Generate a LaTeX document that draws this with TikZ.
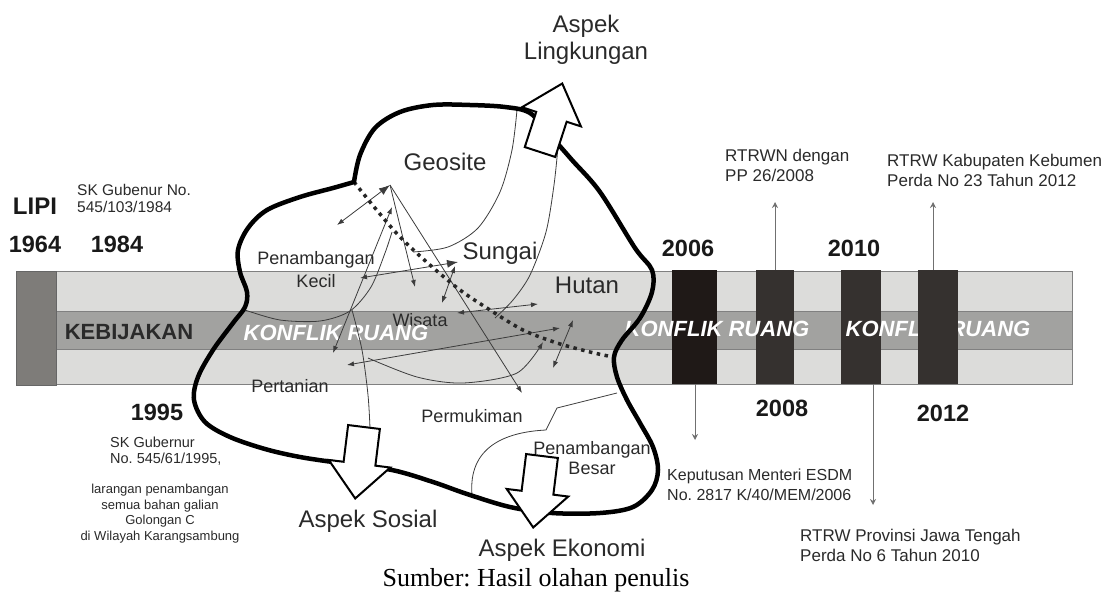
\documentclass[tikz,border=0pt]{standalone}
\usepackage{fontspec}
\setmainfont{Liberation Sans}
\newfontfamily\srcfont{Liberation Serif}
\usetikzlibrary{arrows.meta}
\frenchspacing
\definecolor{bandlight}{HTML}{DCDCDA}
\definecolor{bandmid}{HTML}{A2A2A0}
\definecolor{capgray}{HTML}{7E7C79}
\definecolor{bardark}{HTML}{1F1917}
\definecolor{barmid}{HTML}{35312F}
\definecolor{txt}{HTML}{2A2A2A}
\definecolor{lineg}{HTML}{3C3C3C}
\definecolor{tlgray}{HTML}{707070}
\definecolor{edgegray}{HTML}{808080}
\tikzset{
  fs/.style n args={2}{font=\fontsize{#1}{#2}\selectfont},
  lbl/.style={fs={18}{23}, text=txt, inner sep=0pt, align=center},
  biglbl/.style={fs={24}{27}, text=txt, inner sep=0pt, align=center},
  yearlbl/.style={font=\bfseries\fontsize{23.5}{26}\selectfont, text=black!90, inner sep=0pt},
  note/.style={fs={17}{20}, text=txt, inner sep=0pt, align=left, anchor=west},
  kr/.style={font=\bfseries\itshape\fontsize{22}{24}\selectfont, text=white, inner sep=0pt},
  bandbox/.style={draw=edgegray, line width=0.8pt, inner sep=0pt, outer sep=0pt},
  yearbar/.style={inner sep=0pt, outer sep=0pt, minimum height=114pt},
  thinln/.style={draw=lineg, line width=0.8pt},
  smtip/.tip={Latex[length=7pt,width=5pt]},
  bgtip/.tip={Latex[length=11pt,width=8pt]},
  arr/.style={thinln, -smtip},
  darr/.style={thinln, smtip-smtip},
  tl/.style={draw=tlgray, line width=0.9pt, -{Stealth[length=6pt,width=6pt]}},
  dotline/.style={draw=black!85, line width=3.5pt, dash pattern=on 3.5pt off 4.5pt},
  blobline/.style={draw=black, line width=4.5pt, line join=round, line cap=round},
  blockarrow/.pic={
    \draw[fill=white, draw=black, line width=2pt, line join=miter]
      (-16,0) -- (16,0) -- (16,37) -- (31,37) -- (0,72) -- (-31,37) -- (-16,37) -- cycle;
  }
}
\begin{document}
\begin{tikzpicture}[x=1pt,y=-1pt]
\useasboundingbox (0,0) rectangle (1110,592);

% ---- timeline band ----
\node[bandbox, fill=bandlight, minimum width=1016pt, minimum height=113pt] (band) at (564,327.5) {};
\node[bandbox, fill=bandmid, minimum width=1016pt, minimum height=38pt] (midband) at (564,330) {};
\node[bandbox, draw=black!60, fill=capgray, minimum width=40pt, minimum height=114pt] (cap) at (36,328) {};

% ---- year bars ----
\node[yearbar, fill=bardark, minimum width=45pt] (b2006) at (694.5,327) {};
\node[yearbar, fill=barmid, minimum width=38pt] (b2008) at (775,327) {};
\node[yearbar, fill=barmid, minimum width=40pt] (b2010) at (861,327) {};

\node[lbl] (wisata) at (420,320) {Wisata};

\node[font=\bfseries\fontsize{22}{24}\selectfont, text=txt, inner sep=0pt] (kebijakan) at (129,332) {KEBIJAKAN};
\node[kr] (kr1) at (336,333) {KONFLIK RUANG};
\node[kr] (kr2) at (717,329) {KONFLIK RUANG};
\node[kr] (kr3) at (938,329) {KONFLIK RUANG};

\node[yearbar, fill=barmid, minimum width=40pt] (b2012) at (938,327) {};

% ---- years and notes ----
\node[font=\bfseries\fontsize{24}{26}\selectfont, text=black!90, inner sep=0pt] (lipi) at (35,206) {LIPI};
\node[yearlbl] (y1964) at (35,244) {1964};
\node[yearlbl] (y1984) at (117,244) {1984};
\node[yearlbl] (y1995) at (157,412) {1995};
\node[yearlbl] (y2006) at (688,248) {2006};
\node[yearlbl] (y2010) at (854,248) {2010};
\node[yearlbl] (y2008) at (782,408) {2008};
\node[yearlbl] (y2012) at (943,413) {2012};

\node[note, fs={15.5}{17}] (sk84) at (77,198.5) {SK Gubenur No.\\545/103/1984};
\node[note, fs={14.5}{16}] (sk95) at (110,451) {SK Gubernur\\No. 545/61/1995,};
\node[fs={13}{15.7}, text=txt, inner sep=0pt, align=center] (larangan) at (160,513.5)
  {larangan penambangan\\semua bahan galian\\Golongan C\\di Wilayah Karangsambung};

\node[note] (rtrwn) at (725,165) {RTRWN dengan\\PP 26/2008};
\node[note] (kab) at (887,170) {RTRW Kabupaten Kebumen\\Perda No 23 Tahun 2012};
\node[note, fs={16}{20}] (esdm) at (667,485) {Keputusan Menteri ESDM\\No. 2817 K/40/MEM/2006};
\node[note] (prov) at (800,545) {RTRW Provinsi Jawa Tengah\\Perda No 6 Tahun 2010};

\coordinate (t2008) at (775,202);
\coordinate (t2012) at (933,202);
\coordinate (t2006) at (695,440);
\coordinate (t2010) at (873,505);
\draw[tl] (b2008.north) -- (t2008);
\draw[tl] (b2012.north -| t2012) -- (t2012);
\draw[tl] (b2006.south -| t2006) -- (t2006);
\draw[tl] (b2010.south -| t2010) -- (t2010);

% ---- labels inside the blob ----
\node[biglbl] (geosite) at (445,162) {Geosite};
\node[biglbl] (sungai) at (500,253) {Sungai};
\node[biglbl] (hutan) at (587,285) {Hutan};
\node[lbl] (kecil) at (316,270) {Penambangan\\Kecil};
\node[lbl] (pertanian) at (290,386) {Pertanian};
\node[lbl] (permukiman) at (472,416) {Permukiman};
\node[lbl, fs={18}{20}] (besar) at (592,458) {Penambangan\\Besar};

% ---- thin relation lines ----
\coordinate (hub) at (390,185);
\coordinate (g1) at (337,225);
\coordinate (h2) at (392,207);
\coordinate (h3) at (333,353);
\coordinate (w1) at (415,287);
\coordinate (pm) at (522,393);
\coordinate (k1) at (360,278);
\coordinate (s1) at (458,262);
\coordinate (s2) at (455,266);
\coordinate (s3) at (442,303);
\coordinate (w2) at (457,313);
\coordinate (hu) at (538,304);
\coordinate (p1) at (347,365);
\coordinate (r1) at (560,328);
\coordinate (r2) at (553,368);
\coordinate (r3) at (573,320);

\draw[thinln, smtip-bgtip] (g1) -- (hub);
\draw[arr] (hub) -- (w1);
\draw[arr] (hub) -- (pm);
\draw[darr] (h3) -- (h2);
\draw[thinln, smtip-bgtip] (k1) -- (s1);
\draw[darr] (s2) -- (s3);
\draw[darr] (w2) -- (hu);
\draw[darr] (p1) -- (r1);
\draw[darr] (r2) -- (r3);

\draw[thinln] plot[smooth] coordinates {(517,110) (512,150) (500,192) (478,228) (448,247) (413,252)};
\draw[thinln] plot[smooth] coordinates {(558,147) (554,185) (546,232) (530,275) (513,300) (495,318)};
\draw[thinln] plot[smooth] coordinates {(245,310) (280,320) (320,321) (350,311) (371,287) (385,253) (392,232)};
\draw[arr] plot[smooth] coordinates {(368,358) (417,377) (463,383) (517,373) (543,342)};
\draw[thinln] plot[smooth] coordinates {(352,310) (362,350) (368,395) (370,428)};
\draw[thinln] (617,393) -- (557,408) -- (546,430) .. controls (505,432) and (468,447) .. (472,495);

% ---- dotted boundary ----
\draw[dotline] plot[smooth] coordinates {(354,182) (375,208) (400,237) (430,265) (460,290) (490,310) (523,330) (557,343) (590,352) (613,357)};

% ---- blob outline ----
\draw[blobline] plot[smooth, tension=0.55] coordinates {
 (354,182) (333,188) (300,197) (267,210) (248,228) (238,250) (240,272) (247,292)
 (245,307) (233,323) (213,350) (198,377) (194,400) (205,422) (230,437) (265,449)
 (300,457) (340,463) (392,470) (433,482) (467,494) (510,507) (552,513) (600,513)
 (633,507) (652,490) (658,470) (653,447) (640,423) (627,400) (617,377) (614,357)
 (622,340) (640,318) (652,292) (652,270) (635,248) (600,192) (572,160) (550,135)
 (530,113) (505,107) (470,105) (433,105) (400,112) (375,128) (360,155) (354,182)};

% ---- block arrows ----
\path (540,152) pic[rotate=162] {blockarrow};
\path (364,427) pic[rotate=-7] {blockarrow};
\path (542,456) pic[rotate=-7] {blockarrow};

\node[biglbl] (lingk) at (586,40) {Aspek\\Lingkungan};
\node[biglbl] (sosial) at (368,521) {Aspek Sosial};
\node[biglbl] (ekonomi) at (562,550) {Aspek Ekonomi};

% ---- source ----
\node[font=\srcfont\fontsize{26}{28}\selectfont, text=black, inner sep=0pt, anchor=base] (sumber) at (536,586) {Sumber: Hasil olahan penulis};
\end{tikzpicture}
\end{document}
